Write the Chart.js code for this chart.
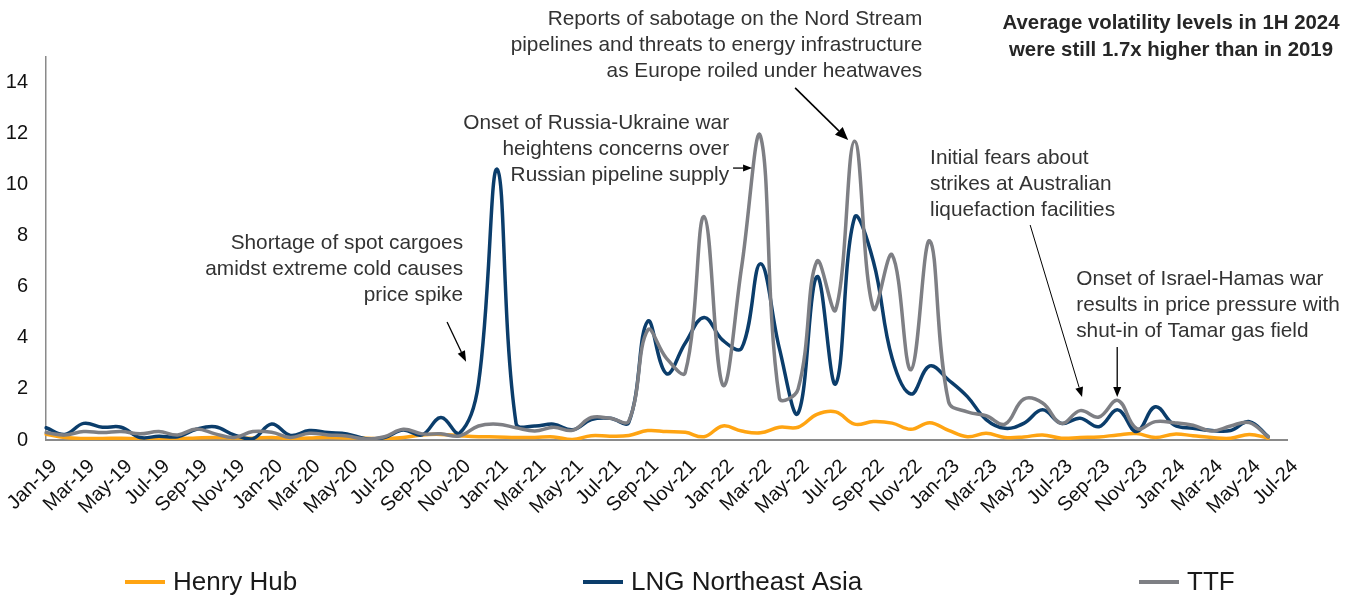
<!DOCTYPE html>
<html><head><meta charset="utf-8">
<script src="https://cdn.jsdelivr.net/npm/chart.js@4"></script>
<style>html,body{margin:0;padding:0;background:#fff;}canvas{display:block;}</style>
</head><body>
<canvas id="c" width="1364" height="597"></canvas>
<script>
const months = [
 'Jan-19','Feb-19','Mar-19','Apr-19','May-19','Jun-19','Jul-19','Aug-19','Sep-19','Oct-19','Nov-19','Dec-19',
 'Jan-20','Feb-20','Mar-20','Apr-20','May-20','Jun-20','Jul-20','Aug-20','Sep-20','Oct-20','Nov-20','Dec-20',
 'Jan-21','Feb-21','Mar-21','Apr-21','May-21','Jun-21','Jul-21','Aug-21','Sep-21','Oct-21','Nov-21','Dec-21',
 'Jan-22','Feb-22','Mar-22','Apr-22','May-22','Jun-22','Jul-22','Aug-22','Sep-22','Oct-22','Nov-22','Dec-22',
 'Jan-23','Feb-23','Mar-23','Apr-23','May-23','Jun-23','Jul-23','Aug-23','Sep-23','Oct-23','Nov-23','Dec-23',
 'Jan-24','Feb-24','Mar-24','Apr-24','May-24','Jun-24','Jul-24'];

const henryHub = [
 0.22,0.10,0.06,0.06,0.07,0.05,0.06,0.05,0.08,0.10,0.08,0.07,
 0.10,0.06,0.08,0.10,0.08,0.07,0.05,0.10,0.20,0.22,0.17,0.13,
 0.12,0.10,0.10,0.12,0.02,0.17,0.15,0.18,0.37,0.33,0.30,0.13,
 0.55,0.35,0.28,0.50,0.50,1.00,1.10,0.62,0.72,0.66,0.42,0.68,
 0.38,0.13,0.26,0.10,0.12,0.20,0.07,0.10,0.12,0.20,0.25,0.10,
 0.23,0.17,0.10,0.07,0.22,0.07];

const lngNortheastAsia = [
 0.48,0.22,0.65,0.50,0.50,0.10,0.15,0.13,0.42,0.52,0.20,0.05,
 0.63,0.18,0.37,0.29,0.24,0.05,0.10,0.39,0.20,0.88,0.27,2.20,
 10.60,0.65,0.55,0.62,0.40,0.80,0.85,0.70,4.65,2.60,3.80,4.80,
 3.90,3.60,6.90,3.60,1.05,6.40,2.20,8.70,7.00,3.20,1.80,2.90,
 2.35,1.70,0.80,0.46,0.65,1.18,0.65,0.85,0.52,1.18,0.33,1.30,
 0.59,0.46,0.37,0.37,0.72,0.13];

const ttf = [
 0.29,0.20,0.33,0.29,0.33,0.24,0.33,0.20,0.43,0.24,0.10,0.33,
 0.30,0.10,0.26,0.20,0.16,0.04,0.13,0.42,0.24,0.24,0.16,0.55,
 0.62,0.48,0.35,0.50,0.38,0.88,0.85,0.75,4.30,3.20,2.65,8.75,
 2.15,6.80,11.90,1.65,2.00,7.00,5.10,11.70,5.15,7.25,2.75,7.80,
 1.50,1.10,0.95,0.62,1.60,1.45,0.65,1.15,0.90,1.55,0.45,0.72,
 0.68,0.58,0.35,0.55,0.68,0.12];

const yTickValues = [0,2,4,6,8,10,12,14];
const seriesNames = ['Henry Hub','LNG Northeast Asia','TTF'];
const seriesColors = ['#FFA412','#0B3D6B','#7E7F84'];
const titleLines = ['Average volatility levels in 1H 2024','were still 1.7x higher than in 2019'];

const FONT = '"Liberation Sans", Arial, Helvetica, sans-serif';

// annotations: anchor in data coordinates (month index, value); arrows too
const notes = [
 {lines:['Shortage of spot cargoes','amidst extreme cold causes','price spike'], align:'right', at:[22.18,7.72],
  arrow:{from:[21.33,4.62], to:[22.34,3.06], w:1.3, head:11, headW:8}},
 {lines:['Onset of Russia-Ukraine war','heightens concerns over','Russian pipeline supply'], align:'right', at:[36.33,12.42],
  arrow:{from:[36.54,10.65], to:[37.55,10.65], w:1.3, head:9, headW:7}},
 {lines:['Reports of sabotage on the Nord Stream','pipelines and threats to energy infrastructure','as Europe roiled under heatwaves'], align:'right', at:[46.6,16.49],
  arrow:{from:[39.84,13.79], to:[42.66,11.75], w:1.6, head:13, headW:11}},
 {lines:['Initial fears about','strikes at Australian','liquefaction facilities'], align:'left', at:[47.02,11.05],
  arrow:{from:[52.34,8.42], to:[55.1,1.68], w:1, head:10, headW:8}},
 {lines:['Onset of Israel-Hamas war','results in price pressure with','shut-in of Tamar gas field'], align:'left', at:[54.79,6.31],
  arrow:{from:[56.97,3.64], to:[56.97,1.68], w:1.3, head:10, headW:8}}
];

function drawArrow(ctx, x1, y1, x2, y2, w, head, headW) {
  const a = Math.atan2(y2 - y1, x2 - x1);
  const bx = x2 - head * Math.cos(a), by = y2 - head * Math.sin(a);
  ctx.lineWidth = w;
  ctx.beginPath(); ctx.moveTo(x1, y1); ctx.lineTo(bx, by); ctx.stroke();
  ctx.beginPath();
  ctx.moveTo(x2, y2);
  ctx.lineTo(bx + headW / 2 * Math.sin(a), by - headW / 2 * Math.cos(a));
  ctx.lineTo(bx - headW / 2 * Math.sin(a), by + headW / 2 * Math.cos(a));
  ctx.closePath(); ctx.fill();
}

const notesPlugin = {
  id: 'notes',
  afterDraw(chart) {
    const ctx = chart.ctx, xs = chart.scales.x, ys = chart.scales.y;
    ctx.save();
    ctx.font = '20.8px ' + FONT;
    ctx.textBaseline = 'middle';
    notes.forEach(n => {
      const x = xs.getPixelForValue(n.at[0]), y = ys.getPixelForValue(n.at[1]);
      ctx.fillStyle = '#333333';
      ctx.textAlign = n.align;
      n.lines.forEach((l, i) => ctx.fillText(l, x, y + i * 26.3));
      const a = n.arrow;
      ctx.strokeStyle = '#000'; ctx.fillStyle = '#000';
      drawArrow(ctx, xs.getPixelForValue(a.from[0]), ys.getPixelForValue(a.from[1]),
                xs.getPixelForValue(a.to[0]), ys.getPixelForValue(a.to[1]), a.w, a.head, a.headW);
    });
    // title block
    ctx.font = 'bold 20.4px ' + FONT;
    ctx.fillStyle = '#262626';
    ctx.textAlign = 'center';
    titleLines.forEach((l, i) => ctx.fillText(l, 1171, 23 + i * 27));
    // legend
    const legendX = [125, 583, 1139];
    const legendY = 582;
    chart.data.datasets.forEach((ds, i) => {
      ctx.strokeStyle = ds.borderColor; ctx.lineWidth = 4; ctx.lineCap = 'butt';
      ctx.beginPath(); ctx.moveTo(legendX[i], legendY); ctx.lineTo(legendX[i] + 40, legendY); ctx.stroke();
      ctx.fillStyle = '#1a1a1a'; ctx.font = '26px ' + FONT; ctx.textAlign = 'left';
      ctx.fillText(ds.label, legendX[i] + 48, legendY + 1);
    });
    ctx.restore();
  }
};

new Chart(document.getElementById('c'), {
  type: 'line',
  data: {
    labels: months,
    datasets: [
      {label: seriesNames[0], data: henryHub, borderColor: seriesColors[0], backgroundColor: seriesColors[0], order: 3},
      {label: seriesNames[1], data: lngNortheastAsia, borderColor: seriesColors[1], backgroundColor: seriesColors[1], order: 2},
      {label: seriesNames[2], data: ttf, borderColor: seriesColors[2], backgroundColor: seriesColors[2], order: 1}
    ]
  },
  options: {
    responsive: false,
    animation: false,
    layout: {padding: {left: 0, right: 77, top: 57, bottom: 0}},
    plugins: {legend: {display: false}, tooltip: {enabled: false}},
    elements: {
      point: {radius: 0, hoverRadius: 0},
      line: {tension: 0.4, borderWidth: 3.5, borderCapStyle: 'round', borderJoinStyle: 'round', fill: false}
    },
    scales: {
      x: {
        type: 'category', offset: false,
        grid: {display: false, drawTicks: false},
        border: {display: true, color: '#8a8a8a', width: 2},
        ticks: {autoSkip: false, maxRotation: 45, minRotation: 45, padding: 9, labelOffset: 8, color: '#111',
                font: {size: 20, family: FONT, lineHeight: 2},
                callback: (v, i) => (i % 2 === 0 ? months[i] : '')},
        afterFit: s => { s.height = 157; s.paddingLeft = 0; s.paddingRight = 0; }
      },
      y: {
        min: 0, max: 15,
        grid: {display: false, drawTicks: false},
        border: {display: true, color: '#8a8a8a', width: 1.5},
        ticks: {stepSize: 2, includeBounds: false, padding: 18, color: '#111',
                font: {size: 20, family: FONT},
                callback: v => (yTickValues.includes(v) ? v : '')},
        afterFit: s => { s.width = 46; s.paddingTop = 0; s.paddingBottom = 0; }
      }
    }
  },
  plugins: [notesPlugin]
});
</script>
</body></html>
